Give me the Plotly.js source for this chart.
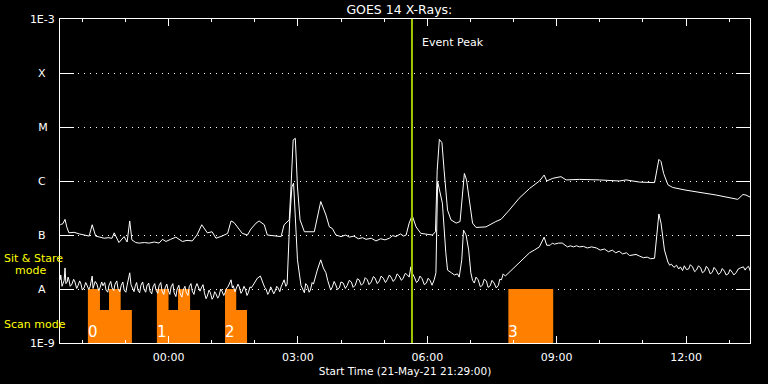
<!DOCTYPE html>
<html>
<head>
<meta charset="utf-8">
<script src="https://cdn.plot.ly/plotly-3.0.1.min.js"></script>
<style>html,body{margin:0;padding:0;background:#000;}#chart{width:768px;height:384px;}</style>
</head>
<body>
<div id="chart"></div>
<script>
// Time in hours relative to 22-May-2021 00:00 (negative = 21-May), flux as log10(W/m^2)
const startTime = '2021-05-21 21:29:00';
const endTime = '2021-05-22 13:29:00';
const eventPeakHour = 5.645;

// GOES long channel (1-8 A): [hour, log10 flux]
const longChannel = [[-2.51,-6.81],[-2.45,-6.79],[-2.40,-6.71],[-2.36,-6.85],[-2.31,-6.96],[-2.19,-6.95],[-2.07,-6.98],[-1.95,-7.0],[-1.84,-7.02],[-1.77,-6.81],[-1.69,-7.02],[-1.59,-7.04],[-1.49,-7.06],[-1.40,-7.05],[-1.31,-7.06],[-1.26,-6.96],[-1.15,-7.14],[-1.03,-7.03],[-0.96,-7.13],[-0.90,-6.74],[-0.85,-7.09],[-0.76,-7.14],[-0.68,-7.15],[-0.56,-7.14],[-0.45,-7.15],[-0.33,-7.13],[-0.22,-7.15],[-0.14,-7.08],[-0.06,-7.12],[0.05,-7.08],[0.17,-7.04],[0.32,-7.12],[0.43,-7.10],[0.55,-7.11],[0.66,-7.0],[0.77,-6.81],[0.90,-6.96],[1.01,-6.94],[1.10,-7.06],[1.24,-7.02],[1.37,-6.97],[1.45,-6.74],[1.52,-6.77],[1.71,-6.97],[1.83,-7.0],[1.91,-6.89],[2.03,-6.78],[2.10,-6.74],[2.22,-6.81],[2.29,-7.0],[2.45,-7.02],[2.61,-7.03],[2.68,-6.81],[2.80,-6.72],[2.84,-6.11],[2.89,-5.24],[2.94,-5.21],[2.99,-6.11],[3.05,-6.72],[3.15,-6.94],[3.38,-6.94],[3.45,-6.66],[3.53,-6.38],[3.65,-6.63],[3.73,-6.85],[3.80,-6.88],[3.88,-7.0],[4.00,-7.03],[4.11,-7.0],[4.19,-7.04],[4.30,-7.02],[4.40,-7.07],[4.50,-7.05],[4.58,-7.08],[4.70,-7.06],[4.81,-7.11],[4.92,-7.07],[5.02,-7.09],[5.12,-7.06],[5.20,-7.01],[5.27,-7.03],[5.38,-6.98],[5.45,-7.02],[5.51,-7.0],[5.58,-6.78],[5.65,-6.64],[5.74,-6.85],[5.85,-6.97],[6.12,-7.0],[6.19,-6.94],[6.23,-5.80],[6.28,-5.23],[6.34,-5.29],[6.39,-5.80],[6.47,-6.54],[6.55,-6.72],[6.67,-6.78],[6.76,-6.75],[6.82,-6.11],[6.86,-5.86],[6.91,-5.98],[6.99,-6.41],[7.05,-6.78],[7.13,-6.86],[7.36,-6.85],[7.59,-6.75],[7.71,-6.71],[7.90,-6.54],[8.13,-6.32],[8.37,-6.14],[8.60,-6.0],[8.71,-5.89],[8.77,-6.0],[8.91,-5.95],[9.10,-5.92],[9.22,-5.98],[9.53,-5.97],[9.99,-5.98],[10.45,-6.0],[10.61,-5.98],[10.92,-6.02],[11.27,-6.03],[11.32,-5.80],[11.37,-5.60],[11.42,-5.64],[11.48,-5.86],[11.58,-6.07],[11.69,-6.12],[12.0,-6.17],[12.31,-6.21],[12.70,-6.26],[13.20,-6.34],[13.32,-6.25],[13.39,-6.26],[13.49,-6.30]];

// GOES short channel (0.5-4 A): [hour, log10 flux]
const shortChannel = [[-2.51,-7.83],[-2.50,-7.74],[-2.49,-7.80],[-2.47,-7.95],[-2.45,-7.91],[-2.42,-7.84],[-2.40,-7.61],[-2.38,-7.90],[-2.35,-7.87],[-2.33,-7.78],[-2.31,-7.83],[-2.28,-7.95],[-2.24,-7.91],[-2.20,-7.82],[-2.17,-7.87],[-2.13,-7.99],[-2.10,-7.94],[-2.06,-7.85],[-2.03,-7.91],[-2.00,-8.02],[-1.96,-7.98],[-1.92,-7.88],[-1.89,-7.93],[-1.85,-8.01],[-1.82,-7.96],[-1.77,-7.76],[-1.75,-7.99],[-1.73,-7.94],[-1.70,-7.86],[-1.66,-7.91],[-1.62,-8.03],[-1.59,-7.98],[-1.55,-7.87],[-1.52,-7.94],[-1.48,-7.88],[-1.45,-8.02],[-1.41,-8.06],[-1.38,-7.93],[-1.34,-7.86],[-1.31,-7.98],[-1.27,-8.03],[-1.24,-7.91],[-1.20,-7.85],[-1.17,-8.0],[-1.13,-8.05],[-1.10,-7.94],[-1.06,-7.87],[-1.03,-8.02],[-0.99,-8.06],[-0.96,-7.93],[-0.90,-7.70],[-0.87,-7.92],[-0.84,-7.98],[-0.80,-8.05],[-0.77,-7.94],[-0.74,-7.88],[-0.71,-8.02],[-0.67,-8.07],[-0.64,-7.93],[-0.60,-7.87],[-0.57,-8.0],[-0.53,-8.06],[-0.50,-7.94],[-0.46,-7.89],[-0.43,-8.04],[-0.39,-8.09],[-0.36,-7.96],[-0.32,-7.90],[-0.29,-8.02],[-0.25,-8.08],[-0.22,-7.94],[-0.18,-7.88],[-0.15,-8.04],[-0.11,-8.10],[-0.08,-7.98],[-0.04,-7.91],[-0.01,-8.02],[0.03,-8.10],[0.06,-7.96],[0.10,-7.90],[0.13,-8.07],[0.17,-8.14],[0.20,-8.0],[0.24,-7.93],[0.27,-8.09],[0.31,-8.15],[0.34,-8.02],[0.38,-7.95],[0.41,-8.06],[0.45,-8.12],[0.48,-7.96],[0.52,-7.90],[0.55,-8.04],[0.59,-8.10],[0.62,-7.98],[0.66,-7.90],[0.69,-7.96],[0.73,-8.04],[0.76,-7.98],[0.80,-7.92],[0.83,-8.06],[0.87,-8.18],[0.90,-8.13],[0.94,-8.02],[0.97,-8.07],[1.01,-8.19],[1.04,-8.15],[1.07,-8.05],[1.10,-8.09],[1.14,-8.17],[1.17,-8.13],[1.21,-8.00],[1.24,-8.04],[1.28,-8.12],[1.31,-8.07],[1.35,-7.98],[1.38,-7.96],[1.45,-7.83],[1.48,-7.98],[1.50,-7.94],[1.54,-8.05],[1.57,-8.0],[1.61,-7.91],[1.64,-7.96],[1.68,-8.08],[1.71,-8.04],[1.75,-7.95],[1.78,-8.0],[1.82,-8.12],[1.85,-8.07],[1.89,-7.96],[1.92,-7.98],[1.99,-7.89],[2.06,-7.80],[2.13,-7.76],[2.16,-7.84],[2.19,-7.89],[2.23,-7.97],[2.26,-8.0],[2.30,-8.10],[2.33,-8.06],[2.37,-7.96],[2.40,-8.02],[2.44,-8.09],[2.47,-8.04],[2.51,-7.95],[2.54,-7.98],[2.58,-8.05],[2.61,-7.96],[2.68,-7.83],[2.72,-7.95],[2.75,-7.91],[2.81,-6.72],[2.86,-6.11],[2.90,-6.04],[2.94,-6.66],[2.99,-7.46],[3.07,-7.93],[3.11,-8.02],[3.15,-8.07],[3.18,-7.90],[3.22,-7.94],[3.26,-8.06],[3.29,-8.02],[3.33,-7.88],[3.36,-7.91],[3.45,-7.65],[3.53,-7.46],[3.59,-7.61],[3.65,-7.70],[3.69,-7.84],[3.73,-7.93],[3.76,-8.02],[3.80,-7.96],[3.84,-7.86],[3.87,-7.91],[3.92,-8.01],[3.96,-7.98],[4.00,-7.87],[4.05,-7.89],[4.10,-7.99],[4.14,-7.94],[4.19,-7.84],[4.24,-7.87],[4.28,-7.97],[4.33,-7.93],[4.38,-7.81],[4.42,-7.83],[4.47,-7.93],[4.52,-7.89],[4.56,-7.79],[4.61,-7.83],[4.65,-7.92],[4.70,-7.87],[4.75,-7.77],[4.79,-7.80],[4.84,-7.90],[4.89,-7.85],[4.93,-7.76],[4.98,-7.80],[5.03,-7.88],[5.07,-7.83],[5.12,-7.74],[5.16,-7.78],[5.21,-7.86],[5.26,-7.81],[5.30,-7.72],[5.35,-7.76],[5.40,-7.84],[5.44,-7.80],[5.49,-7.71],[5.54,-7.74],[5.58,-7.78],[5.62,-7.59],[5.66,-7.72],[5.70,-7.78],[5.75,-7.88],[5.79,-7.85],[5.83,-7.76],[5.88,-7.81],[5.93,-7.92],[5.98,-7.89],[6.02,-7.80],[6.07,-7.85],[6.11,-7.93],[6.16,-7.83],[6.20,-7.70],[6.24,-6.01],[6.29,-6.17],[6.35,-6.41],[6.43,-7.33],[6.47,-7.65],[6.56,-7.70],[6.63,-7.74],[6.70,-7.72],[6.74,-7.78],[6.80,-7.46],[6.84,-6.91],[6.90,-7.0],[6.96,-7.28],[7.01,-7.70],[7.05,-7.84],[7.09,-7.89],[7.13,-7.78],[7.18,-7.83],[7.23,-7.96],[7.28,-7.93],[7.32,-7.82],[7.37,-7.85],[7.41,-7.97],[7.46,-7.94],[7.50,-7.84],[7.55,-7.89],[7.60,-7.98],[7.65,-7.93],[7.68,-7.82],[7.72,-7.83],[7.76,-7.72],[7.81,-7.76],[7.90,-7.69],[8.02,-7.61],[8.13,-7.52],[8.25,-7.43],[8.37,-7.33],[8.48,-7.28],[8.60,-7.22],[8.71,-7.04],[8.77,-7.19],[8.85,-7.19],[8.90,-7.15],[8.95,-7.17],[9.04,-7.15],[9.13,-7.15],[9.19,-7.19],[9.25,-7.22],[9.32,-7.20],[9.39,-7.22],[9.46,-7.20],[9.53,-7.22],[9.62,-7.21],[9.71,-7.24],[9.81,-7.22],[9.92,-7.24],[10.01,-7.28],[10.11,-7.26],[10.20,-7.31],[10.29,-7.28],[10.37,-7.33],[10.45,-7.30],[10.53,-7.35],[10.62,-7.33],[10.69,-7.38],[10.76,-7.37],[10.84,-7.36],[10.92,-7.39],[11.01,-7.42],[11.10,-7.41],[11.18,-7.44],[11.27,-7.43],[11.31,-7.09],[11.37,-6.61],[11.42,-6.78],[11.50,-7.28],[11.58,-7.50],[11.62,-7.56],[11.66,-7.54],[11.72,-7.60],[11.78,-7.56],[11.83,-7.63],[11.87,-7.59],[11.92,-7.66],[11.96,-7.57],[12.01,-7.64],[12.06,-7.63],[12.10,-7.55],[12.15,-7.59],[12.20,-7.68],[12.24,-7.65],[12.29,-7.57],[12.34,-7.61],[12.38,-7.70],[12.43,-7.67],[12.47,-7.58],[12.52,-7.63],[12.56,-7.72],[12.61,-7.69],[12.65,-7.60],[12.70,-7.65],[12.75,-7.73],[12.80,-7.70],[12.84,-7.62],[12.89,-7.67],[12.93,-7.74],[12.98,-7.72],[13.02,-7.64],[13.07,-7.69],[13.11,-7.74],[13.16,-7.70],[13.21,-7.63],[13.26,-7.61],[13.33,-7.59],[13.37,-7.65],[13.40,-7.61],[13.45,-7.58],[13.49,-7.67]];

// Scan-mode blocks: step edges (hours) and step heights (W/m^2)
const blockLabels = ['0', '1', '2', '3'];
const blockEdges = [[-1.87,-1.59,-1.38,-1.11,-0.85],[-0.27,0.0,0.22,0.50,0.73],[1.31,1.57,1.82],[7.88,8.92]];
const blockLevels = [[1e-8,4.1e-9,1e-8,4.1e-9],[1e-8,4.1e-9,1e-8,4.1e-9],[1e-8,4.1e-9],[1e-8]];
const blockBase = 1e-9;
const blockLabelLevel = 1.5e-9;

const yTickVals = [1e-9, 1e-8, 1e-7, 1e-6, 1e-5, 1e-4, 1e-3];
const yTickText = ['1E-9', 'A', 'B', 'C', 'M', 'X', '1E-3'];

const NB = '\u00a0', TH = '\u2009';
const yTickPadded = yTickText.map(t => t.length === 1 ? (t === 'M' ? t + NB + NB : t + NB + NB + TH) : t);

function toDate(h) {
  const ms = Date.UTC(2021, 4, 22) + Math.round(h * 3600000);
  return new Date(ms).toISOString().slice(0, 19).replace('T', ' ');
}

const traces = [];
const FONT = 'DejaVu Sans, Liberation Sans, sans-serif';

// orange blocks
blockEdges.forEach((edges, i) => {
  const xs = [toDate(edges[0])], ys = [blockBase];
  for (let k = 0; k < edges.length - 1; k++) {
    xs.push(toDate(edges[k])); ys.push(blockLevels[i][k]);
    xs.push(toDate(edges[k + 1])); ys.push(blockLevels[i][k]);
  }
  xs.push(toDate(edges[edges.length - 1])); ys.push(blockBase);
  traces.push({
    x: xs, y: ys, type: 'scatter', mode: 'lines', fill: 'toself',
    fillcolor: '#ff8000', line: {width: 0, color: '#ff8000'}, hoverinfo: 'skip', showlegend: false
  });
});

// block labels
traces.push({
  x: blockEdges.map(e => toDate(e[0])), y: blockEdges.map(() => blockLabelLevel),
  text: blockLabels, mode: 'text', type: 'scatter', textposition: 'middle right',
  textfont: {family: FONT, size: 15, color: '#ffffff'}, showlegend: false, hoverinfo: 'skip'
});

// channels
[longChannel, shortChannel].forEach(ch => {
  traces.push({
    x: ch.map(p => toDate(p[0])), y: ch.map(p => Math.pow(10, p[1])),
    type: 'scatter', mode: 'lines', line: {color: '#ffffff', width: 1}, showlegend: false
  });
});

// event peak line
traces.push({
  x: [toDate(eventPeakHour), toDate(eventPeakHour)], y: [1e-9, 1e-3],
  type: 'scatter', mode: 'lines', line: {color: '#a0c800', width: 2}, showlegend: false
});

const layout = {
  width: 768, height: 384,
  paper_bgcolor: '#000000', plot_bgcolor: '#000000',
  margin: {l: 60, r: 18, t: 19, b: 41},
  font: {family: FONT, size: 11, color: '#ffffff'},
  title: {text: 'GOES 14 X-Rays:', x: 0.52, xref: 'container', y: 0.976, yref: 'container', yanchor: 'middle',
          font: {family: FONT, size: 12.5, color: '#ffffff'}},
  xaxis: {
    type: 'date', range: [startTime, endTime],
    tick0: '2021-05-22 00:00:00', dtick: 3 * 3600000, tickformat: '%H:%M',
    ticks: 'inside', ticklen: 7, tickcolor: '#ffffff', tickwidth: 1,
    minor: {dtick: 3600000, ticks: 'inside', ticklen: 3, tickcolor: '#ffffff', showgrid: false},
    showline: true, linecolor: '#ffffff', linewidth: 1, mirror: 'ticks',
    showgrid: false, zeroline: false, ticklabelstandoff: 4,
    tickfont: {family: FONT, size: 11, color: '#ffffff'},
    title: {text: 'Start Time (21-May-21 21:29:00)', font: {family: FONT, size: 10.5, color: '#ffffff'}, standoff: 4}
  },
  yaxis: {
    type: 'log', range: [-9, -3],
    tickvals: yTickVals, ticktext: yTickPadded,
    ticks: 'inside', ticklen: 14, tickcolor: '#ffffff', tickwidth: 1,
    showline: true, linecolor: '#ffffff', linewidth: 1, mirror: 'ticks',
    showgrid: true, gridcolor: '#ffffff', gridwidth: 1, griddash: '1px,5px',
    zeroline: false, ticklabelstandoff: 2,
    tickfont: {family: FONT, size: 11, color: '#ffffff'}
  },
  annotations: [
    {x: toDate(eventPeakHour), y: 0.926, xref: 'x', yref: 'paper', text: 'Event Peak', showarrow: false,
     xanchor: 'left', yanchor: 'middle', xshift: 8, font: {family: FONT, size: 11, color: '#ffffff'}},
    {x: -0.084, y: 0.2608, xref: 'paper', yref: 'paper', text: 'Sit & Stare', showarrow: false,
     xanchor: 'left', yanchor: 'middle', font: {family: FONT, size: 11, color: '#ffff00'}},
    {x: -0.068, y: 0.2238, xref: 'paper', yref: 'paper', text: 'mode', showarrow: false,
     xanchor: 'left', yanchor: 'middle', font: {family: FONT, size: 11, color: '#ffff00'}},
    {x: -0.084, y: 0.0586, xref: 'paper', yref: 'paper', text: 'Scan mode', showarrow: false,
     xanchor: 'left', yanchor: 'middle', font: {family: FONT, size: 11, color: '#ffff00'}}
  ]
};

Plotly.newPlot('chart', traces, layout, {displayModeBar: false, staticPlot: true});
</script>
</body>
</html>
